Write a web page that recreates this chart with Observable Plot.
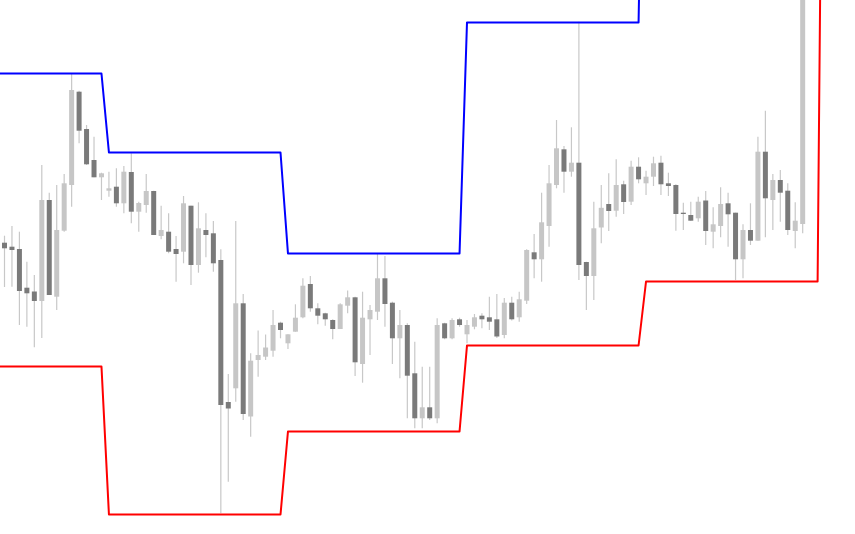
<!DOCTYPE html>
<html>
<head>
<meta charset="utf-8">
<script src="https://cdn.jsdelivr.net/npm/d3@7"></script>
<script src="https://cdn.jsdelivr.net/npm/@observablehq/plot@0.6"></script>
<style>
  html, body { margin: 0; padding: 0; background: #ffffff; }
  #chart svg { display: block; }
</style>
</head>
<body>
<div id="chart"></div>
<script>
// OHLC per bar (price units)
const highs = [764.3,774,768.3,738.3,725,835,807.3,815,826,926.7,909.3,875,863.3,827.3,828.3,831.7,834,846.7,798.3,826,
  809.3,794.3,786.7,764,804,794.3,797.7,786.7,779,750.7,626,779,706,646.7,669.5,665.5,690,678.3,665.7,695.7,
  721.7,724,696.7,687.3,680.7,696.7,709.5,703.3,708.3,695,746,744,698.3,690,676.7,658.3,633.3,633.3,681.7,677.3,
  681.7,682.3,680,686,686.7,703.3,706,702,703.3,708.3,750.7,766,807.3,835,880,854,872.7,978.3,738.3,798.3,
  815,826.7,840.7,819.3,839.3,842.7,829.3,843.3,844.3,827.3,815.7,797.3,798.3,803.3,809,792.7,812.7,807.3,787.3,775.7,
  796.7,863.3,889.3,826,830,816.7,797.7,1040];
const lows = [713,713.3,675,673.3,652.7,662,705,690,768.3,793.3,856.7,835,822.7,800,803.3,793.3,786.7,776.7,768.3,787.3,
  765,760.7,746.7,718.3,736.7,715,727.3,742.7,728.3,486.7,518.3,598.3,580,563.3,623.3,640,643.3,661.7,651,668.3,
  681.7,688.3,675.7,674.3,660.7,671,686.7,624,617.3,645,680,673.3,636,621.7,581.7,571.7,571.7,580,576.7,660.7,
  660.7,673.3,656.7,670.7,671.7,670,662,661.7,679.5,678.3,696,721.7,718.3,753.3,811.7,807.3,823.3,720,690,700,
  756.7,769,783.3,786,795,816.7,805,814,805,804,769.3,770,779,778.3,755,751.7,762.7,753.3,720,721.7,
  755,759.3,762.7,770,778.3,765,751.7,766.7];
const opens = [757.3,753.3,751,712.3,708.5,699,800,703.3,769.3,815,908.3,871,840,822.7,809.3,813.3,796.7,828,788.3,795,
  809,764,768.3,751,748.3,794.3,735,770,766.7,740,598,611.7,696.7,583.5,640,643.3,649.3,677.3,656.7,668.3,
  682.7,716,691.7,686.7,680,671,694.3,702.7,636,680.7,688.3,721.7,697.3,661.7,675,626.7,581.7,592.7,581.7,676.7,
  661.7,680.7,665.7,673.3,684.3,682.7,680.7,665,697.3,682.7,699.3,747.7,740.7,774,815,850.7,828.3,837.3,738,724,
  772.5,796,789.3,815.7,798.3,833.3,816.7,823.3,837.3,816.7,815,787.3,785,781.7,799.5,768.3,774,796.7,787.3,740.7,
  770,759.3,848.3,800,820,809.3,769,776];
const closes = [751.7,750,709,706.7,699,800,705,770,816.7,910,869.3,835.7,822.7,826.7,811.7,796.7,828.3,788.3,797,809,
  765,770,748.3,746,796.7,735,771.7,765,736.7,595,591.5,696.7,586,639.3,645,652.5,675,670,665.7,682.3,
  714.3,691.7,684.3,680.7,671,695.7,702.7,637.7,682.3,690,721.7,696,661.7,675,624.3,581.7,592.7,581.7,675,661.7,
  680,675,675,682.7,680.7,678.3,663.5,697.3,680.7,700.7,750,740.7,777.7,816.7,851.7,828.3,837.3,735,724,771.7,
  792.2,789,815,798,833.3,820.7,823.3,836.7,815.7,814,786,786,779.3,798.3,769,775.7,796,785.7,740.7,770,
  759.3,848.3,801.7,820,807.3,770,779.3,1020];

// Channel levels: bar index of each breakpoint and its level
const upperBars = [-1, 13, 14, 37, 38, 61, 62, 85, 86];
const upperVals = [927, 927, 848, 848, 747, 747, 978, 978, 1400];
const lowerBars = [-1, 13, 14, 37, 38, 61, 62, 85, 86, 109, 110];
const lowerVals = [634, 634, 486, 486, 569, 569, 655, 655, 719, 719, 1560];

const bars = opens.map((o, i) => ({i, o, h: highs[i], l: lows[i], c: closes[i], up: closes[i] >= o}));
const upper = upperBars.map((b, k) => ({b, v: upperVals[k]}));
const lower = lowerBars.map((b, k) => ({b, v: lowerVals[k]}));

const chart = Plot.plot({
  width: 855,
  height: 534,
  margin: 0,
  style: {background: "#ffffff"},
  x: {type: "linear", domain: [-0.536, 114.08], axis: null},
  y: {domain: [466, 1000], axis: null},
  marks: [
    Plot.ruleX(bars, {x: "i", y1: "l", y2: "h", stroke: "#c8c8c8", strokeWidth: 1.2, clip: true}),
    Plot.ruleX(bars, {x: "i", y1: "o", y2: "c", stroke: d => d.up ? "#c6c6c6" : "#7a7a7a", strokeWidth: 5, strokeLinecap: "butt", clip: true}),
    Plot.line(upper, {x: "b", y: "v", stroke: "#0000ff", strokeWidth: 2, clip: true}),
    Plot.line(lower, {x: "b", y: "v", stroke: "#ff0000", strokeWidth: 2, clip: true})
  ]
});
document.getElementById("chart").appendChild(chart);
</script>
</body>
</html>
